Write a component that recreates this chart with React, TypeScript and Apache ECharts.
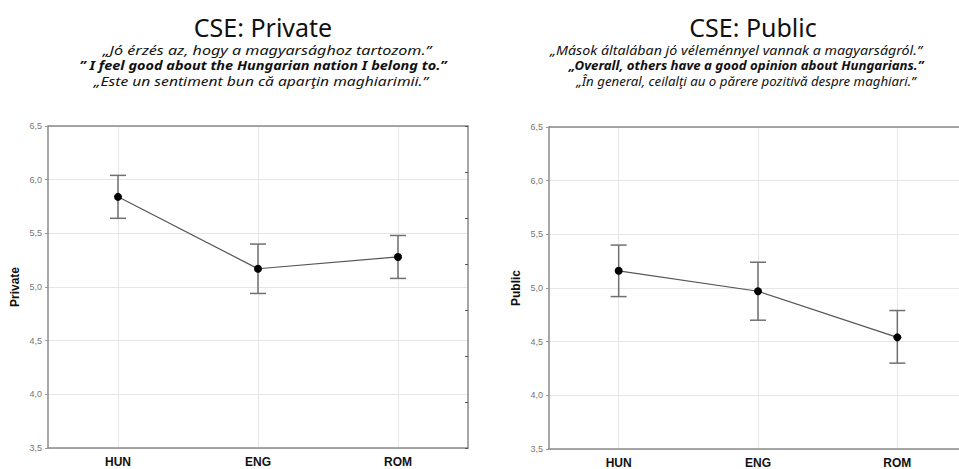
import React, { useEffect, useRef } from "react";
import * as echarts from "echarts";

const categories = ["HUN", "ENG", "ROM"];
const privateMean = [5.84, 5.17, 5.28];
const privateLow = [5.64, 4.94, 5.08];
const privateHigh = [6.04, 5.4, 5.48];
const publicMean = [5.16, 4.97, 4.54];
const publicLow = [4.92, 4.7, 4.3];
const publicHigh = [5.4, 5.24, 4.79];
const yMin = 3.5;
const yMax = 6.5;
const yStep = 0.5;

const titles = ["CSE: Private", "CSE: Public"];
const axisNames = ["Private", "Public"];
const privateLines = [
  "„Jó érzés az, hogy a magyarsághoz tartozom.”",
  "” I feel good about the Hungarian nation I belong to.”",
  "„Este un sentiment bun că aparţin maghiarimii.”",
];
const publicLines = [
  "„Mások általában jó véleménnyel vannak a magyarságról.”",
  "„Overall, others have a good opinion about Hungarians.”",
  "„În general, ceilalţi au o părere pozitivă despre maghiari.”",
];

const AXIS_COLOR = "#8a8a8a";
const GRID_COLOR = "#e6e6e6";

export default function App() {
  const ref = useRef<HTMLDivElement>(null);
  useEffect(() => {
    if (!ref.current) return;
    const chart = echarts.init(ref.current, undefined, { renderer: "svg" });

    const grids = [
      { left: 48, top: 126, width: 420, height: 322, outerBoundsMode: "none" },
      { left: 549, top: 127, width: 418, height: 322, outerBoundsMode: "none" },
    ];

    const xAxes: any[] = [];
    const yAxes: any[] = [];
    [0, 1].forEach((g) => {
      xAxes.push({
        type: "category",
        gridIndex: g,
        data: categories,
        position: "bottom",
        boundaryGap: true,
        axisLine: { lineStyle: { color: AXIS_COLOR, width: 1.5 } },
        axisTick: { alignWithLabel: true, inside: true, length: 3, lineStyle: { color: "#555" } },
        axisLabel: {
          color: "#111",
          fontFamily: "Liberation Sans, Arial, sans-serif",
          fontWeight: "bold",
          fontSize: 12,
          margin: 8,
        },
        splitLine: { show: true, alignWithLabel: true, lineStyle: { color: GRID_COLOR, width: 1 } },
      });
      xAxes.push({
        type: "category",
        gridIndex: g,
        data: categories,
        position: "top",
        boundaryGap: true,
        axisLine: { lineStyle: { color: AXIS_COLOR, width: 1.5 } },
        axisTick: { alignWithLabel: true, inside: true, length: 3, lineStyle: { color: "#555" } },
        axisLabel: { show: false },
        splitLine: { show: false },
      });
      yAxes.push({
        type: "value",
        gridIndex: g,
        position: "left",
        min: yMin,
        max: yMax,
        interval: yStep,
        name: axisNames[g],
        nameLocation: "middle",
        nameGap: 27,
        nameTextStyle: {
          color: "#111",
          fontFamily: "Liberation Sans, Arial, sans-serif",
          fontWeight: "bold",
          fontSize: 12,
        },
        axisLine: { show: true, lineStyle: { color: AXIS_COLOR, width: 1.5 } },
        axisTick: { show: true, length: 3, lineStyle: { color: "#999" } },
        axisLabel: {
          color: "#777",
          fontFamily: "Liberation Sans, Arial, sans-serif",
          fontSize: 9,
          margin: 6,
          formatter: (v: number) => v.toFixed(1).replace(".", ","),
        },
        splitLine: { show: true, lineStyle: { color: GRID_COLOR, width: 1 } },
      });
      yAxes.push({
        type: "value",
        gridIndex: g,
        position: "right",
        min: 0,
        max: 7,
        interval: 1,
        axisLine: { show: true, lineStyle: { color: AXIS_COLOR, width: 1.5 } },
        axisTick: { show: true, inside: true, length: 3, lineStyle: { color: "#555" } },
        axisLabel: { show: false },
        splitLine: { show: false },
      });
    });

    const errorRender = (params: any, api: any) => {
      const x = api.value(0);
      const lo = api.coord([x, api.value(1)]);
      const hi = api.coord([x, api.value(2)]);
      const half = 8;
      const style = { stroke: "#707070", lineWidth: 1.5 };
      return {
        type: "group",
        children: [
          { type: "line", shape: { x1: lo[0], y1: lo[1], x2: hi[0], y2: hi[1] }, style },
          { type: "line", shape: { x1: hi[0] - half, y1: hi[1], x2: hi[0] + half, y2: hi[1] }, style },
          { type: "line", shape: { x1: lo[0] - half, y1: lo[1], x2: lo[0] + half, y2: lo[1] }, style },
        ],
      };
    };

    const sets = [
      { mean: privateMean, low: privateLow, high: privateHigh },
      { mean: publicMean, low: publicLow, high: publicHigh },
    ];
    const series: any[] = [];
    sets.forEach((s, g) => {
      series.push({
        type: "custom",
        xAxisIndex: g * 2,
        yAxisIndex: g * 2,
        renderItem: errorRender,
        data: categories.map((_, i) => [i, s.low[i], s.high[i]]),
        z: 2,
      });
      series.push({
        type: "line",
        xAxisIndex: g * 2,
        yAxisIndex: g * 2,
        data: s.mean,
        symbol: "circle",
        symbolSize: 8,
        itemStyle: { color: "#000" },
        lineStyle: { color: "#555", width: 1.2 },
        z: 3,
      });
    });

    const textEls: any[] = [];
    const mkTitle = (text: string, x: number) => ({
      type: "text",
      x,
      y: 27,
      style: {
        text,
        textAlign: "center",
        textVerticalAlign: "middle",
        font: "25px 'Noto Sans', sans-serif",
        fill: "#111",
      },
    });
    const mkLine = (text: string, x: number, y: number, bold: boolean, sx: number) => ({
      type: "text",
      x,
      y,
      scaleX: sx,
      style: {
        text,
        textAlign: "center",
        textVerticalAlign: "middle",
        lineHeight: 14,
        font: `italic ${bold ? "bold " : ""}12.5px 'Noto Sans', sans-serif`,
        fill: "#111",
      },
    });
    textEls.push(mkTitle(titles[0], 263));
    textEls.push(mkTitle(titles[1], 753));
    const ys = [50, 65, 81];
    const privX = [267, 263, 261];
    const privS = [1.29, 1.16, 1.25];
    privateLines.forEach((t, i) => textEls.push(mkLine(t, privX[i], ys[i], i === 1, privS[i])));
    const pubX = [736, 746, 746];
    const pubS = [1.14, 1.06, 1.06];
    publicLines.forEach((t, i) => textEls.push(mkLine(t, pubX[i], ys[i], i === 1, pubS[i])));

    chart.setOption({
      animation: false,
      backgroundColor: "#fff",
      grid: grids,
      xAxis: xAxes,
      yAxis: yAxes,
      series,
      graphic: textEls,
    });
    return () => chart.dispose();
  }, []);
  return (
    <div
      ref={ref}
      style={{ position: "fixed", left: 0, top: 0, width: 959, height: 469 }}
    />
  );
}
